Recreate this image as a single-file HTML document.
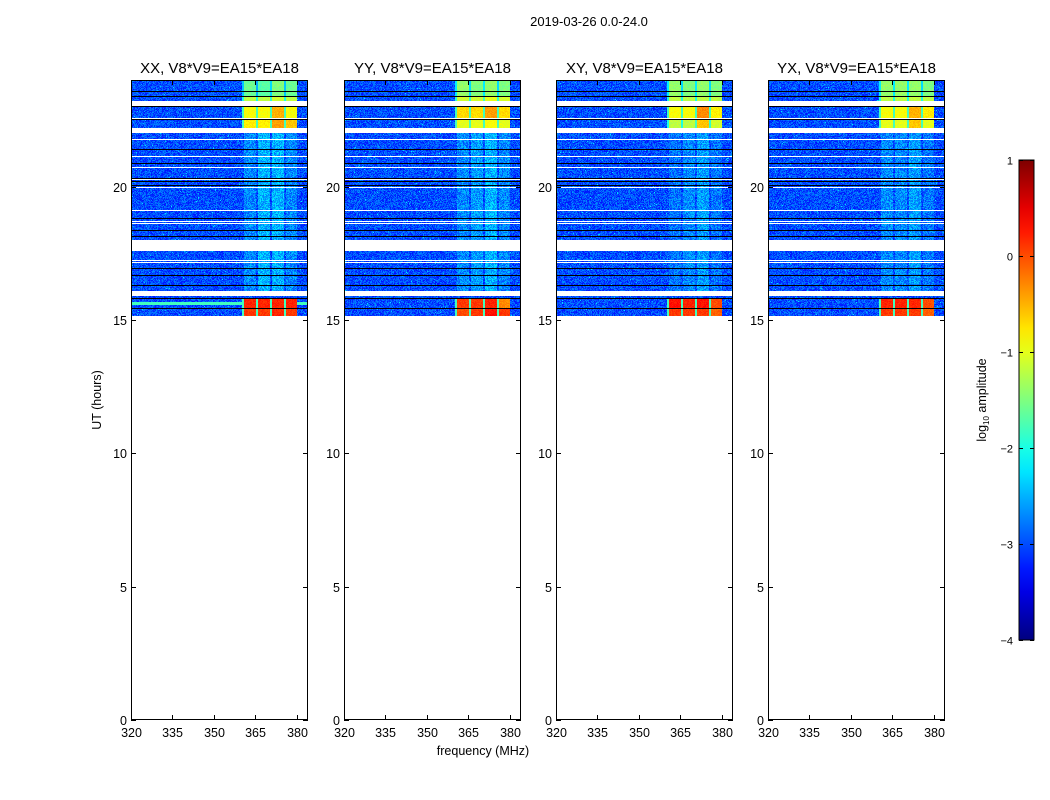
<!DOCTYPE html>
<html><head><meta charset="utf-8">
<style>
body{margin:0;background:#fff;width:1050px;height:800px;overflow:hidden;font-family:"Liberation Sans","DejaVu Sans",sans-serif;}
#root{position:relative;width:1050px;height:800px;}
canvas{position:absolute;image-rendering:pixelated;}
svg{position:absolute;left:0;top:0;}
</style></head>
<body>
<div id="root">
<svg id="svg" width="1050" height="800"></svg>
</div>
<script>
// ---- data ----
const panelTitles = ["XX, V8*V9=EA15*EA18","YY, V8*V9=EA15*EA18","XY, V8*V9=EA15*EA18","YX, V8*V9=EA15*EA18"];
const xTicks = [320,335,350,365,380];
const yTicks = [0,5,10,15,20];
const cbTicks = [1,0,-1,-2,-3,-4];
const dataSegments = [[15.14,15.91],[16.09,17.6],[18.01,22.01],[22.2,23.04],[23.22,24]];
const whiteLines = [22.56,21.79,21.15,20.73,20.29,19.98,19.14,18.72,18.63,17.26,17.18];
const blackLines = [23.58,23.41,23.01,22.54,21.41,20.89,20.33,20.21,20.05,18.83,18.39,18.14,16.95,16.7,16.3,15.83,15.45];
const blockEdges = [360.5,365.4,370.5,375.6,380.2];
const bands = [[23.41,24],[23.22,23.41],[22.58,23.04],[22.2,22.54],[16.09,22.01],[15.45,15.83],[15.14,15.45]];
const baseLevel = -3.0;
const bandValsXX = [[-1.6,-1.7,-1.5,-1.6],[-1.2,-1.2,-1.1,-1.2],[-0.9,-0.9,-0.5,-0.9],[-0.8,-0.8,-0.4,-0.6],[-2.7,-2.5,-2.5,-2.7],[0.2,0.2,0.2,0.2],[0.1,0.1,0.2,0.1]];
const bandValsYY = [[-1.4,-1.5,-1.4,-1.5],[-1.1,-1.1,-1.0,-1.1],[-0.7,-0.7,-0.4,-0.7],[-1.0,-1.0,-0.9,-1.0],[-2.7,-2.6,-2.5,-2.7],[0.1,0.1,0.2,-0.3],[0.0,0.1,0.3,0.1]];
const bandValsXY = [[-1.4,-1.5,-1.4,-1.5],[-1.2,-1.2,-1.2,-1.2],[-0.9,-0.9,-0.3,-0.8],[-1.2,-1.2,-0.6,-1.1],[-2.8,-2.7,-2.6,-2.8],[0.3,0.2,0.3,0.0],[0.1,0.1,0.1,-0.1]];
const bandValsYX = [[-1.4,-1.4,-1.4,-1.5],[-1.2,-1.2,-1.2,-1.2],[-0.9,-0.9,-0.5,-0.8],[-1.0,-1.0,-0.6,-1.0],[-2.7,-2.7,-2.6,-2.8],[0.2,0.2,0.2,0.0],[0.1,0.1,0.1,-0.1]];
const panelVals = [bandValsXX,bandValsYY,bandValsXY,bandValsYX];

// ---- layout ----
const panelX = [131,344,556,768], PW=177, PT=80, PB=720;
const xMin=320,xMax=384,yMin=0,yMax=24;
const NS="http://www.w3.org/2000/svg";
const svg=document.getElementById('svg');
function el(tag,attrs,parent){const e=document.createElementNS(NS,tag);for(const k in attrs)e.setAttribute(k,attrs[k]);(parent||svg).appendChild(e);return e;}
function xs(p,f){return panelX[p]+(f-xMin)/(xMax-xMin)*PW;}
function ys(h){return PB-(h-yMin)/(yMax-yMin)*(PB-PT);}
function jet(v){let t=Math.max(0,Math.min(1,(v+4)/5));
 const r=Math.max(0,Math.min(1,1.5-Math.abs(4*t-3))),g=Math.max(0,Math.min(1,1.5-Math.abs(4*t-2))),b=Math.max(0,Math.min(1,1.5-Math.abs(4*t-1)));
 return [r*255|0,g*255|0,b*255|0];}
function hash(a,b,c){let h=(a*374761393+b*668265263+c*2147483647)|0;h=(h^(h>>>13))*1274126177|0;h=h^(h>>>16);return ((h>>>0)%10000)/10000;}

const root=document.getElementById('root');
panelVals.forEach((vals,p)=>{
  const top=PT, H=Math.ceil(ys(15.1)-PT);
  const cv=document.createElement('canvas');
  
  
  cv.width=PW;cv.height=H;cv.style.left=panelX[p]+'px';cv.style.top=top+'px';
  root.insertBefore(cv,svg);
  const ctx=cv.getContext('2d');const img=ctx.createImageData(PW,H);
  for(let r=0;r<H;r++){
    const h=yMax-(r+0.5)/(PB-PT)*(yMax-yMin);
    const inData=dataSegments.some(s=>h>=s[0]&&h<=s[1]);
    for(let c=0;c<PW;c++){
      const idx=(r*PW+c)*4;
      if(!inData){img.data[idx]=255;img.data[idx+1]=255;img.data[idx+2]=255;img.data[idx+3]=255;continue;}
      const f=xMin+(c+0.5)/PW*(xMax-xMin);
      let v=baseLevel+(hash(c,r,p)-0.5)*0.6;
      if(hash(r,c,p+7)>0.985)v+=0.5;
      if(p===0&&h>15.58&&h<15.66)v=-1.8;
      for(let b=0;b<bands.length;b++){
        if(h>=bands[b][0]&&h<bands[b][1]){
          for(let k=0;k<4;k++){
            if(f>=blockEdges[k]+0.35&&f<blockEdges[k+1]-0.35){v=vals[b][k]+(hash(c,r,p+3)-0.5)*(b===4?0.6:0.2);}
            else if(f>=blockEdges[k]-0.35&&f<blockEdges[k]+0.35&&b!==4){v=Math.min(vals[b][k]-0.8,-1.8);}
          }
        }
      }
      const col=jet(v);img.data[idx]=col[0];img.data[idx+1]=col[1];img.data[idx+2]=col[2];img.data[idx+3]=255;
    }
  }
  ctx.putImageData(img,0,0);
  ctx.fillStyle='#fff';
  whiteLines.forEach(h=>ctx.fillRect(0,Math.round(ys(h)-PT),PW,1));
  ctx.fillStyle='#000';
  blackLines.forEach(h=>ctx.fillRect(0,Math.round(ys(h)-PT),PW,1));
});

// axes
panelX.forEach((x0,p)=>{
  const g=el('g',{});
  
  
  const fr=el('rect',{x:x0+0.5,y:PT+0.5,width:PW-1,height:PB-PT-1,fill:'none',stroke:'#000','stroke-width':1},g);
  
  const t=el('text',{x:x0+PW/2,y:73,'text-anchor':'middle','font-size':15},g);t.textContent=panelTitles[p];
  
  xTicks.forEach(v=>{const x=Math.round(xs(p,v))+0.5;
    el('line',{x1:x,x2:x,y1:PB,y2:PB-5,stroke:'#000'},g);el('line',{x1:x,x2:x,y1:PT,y2:PT+5,stroke:'#000'},g);
    const tl=el('text',{x:x,y:PB+17,'text-anchor':'middle','font-size':12.5},g);tl.textContent=v;
    });
  yTicks.forEach(v=>{const y=Math.round(ys(v))+0.5;
    el('line',{x1:x0,x2:x0+5,y1:y,y2:y,stroke:'#000'},g);el('line',{x1:x0+PW-5,x2:x0+PW,y1:y,y2:y,stroke:'#000'},g);
    const tl=el('text',{x:x0-4,y:y+4.5,'text-anchor':'end','font-size':12.5},g);tl.textContent=v;
    });
});
let tx=el('text',{x:589,y:26,'text-anchor':'middle','font-size':13});tx.textContent='2019-03-26 0.0-24.0';

tx=el('text',{x:483,y:755,'text-anchor':'middle','font-size':12.5});tx.textContent='frequency (MHz)';

tx=el('text',{x:101,y:400,'text-anchor':'middle','font-size':12.5,transform:'rotate(-90 101 400)'});tx.textContent='UT (hours)';


// colorbar
const cbX=1019,cbW=15,cbT=160,cbB=640;
const defs=el('defs',{});const lg=el('linearGradient',{id:'jetg',x1:0,y1:1,x2:0,y2:0},defs);
for(let i=0;i<=20;i++){const c=jet(-4+5*i/20);el('stop',{offset:i/20,'stop-color':`rgb(${c})`},lg);}
const cb=el('rect',{x:cbX,y:cbT,width:cbW,height:cbB-cbT,fill:'url(#jetg)',stroke:'#000'});

cbTicks.forEach(v=>{const y=Math.round(cbB-(v+4)/5*(cbB-cbT))+0.5;
  el('line',{x1:cbX,x2:cbX+4,y1:y,y2:y,stroke:'#000'});el('line',{x1:cbX+cbW-4,x2:cbX+cbW,y1:y,y2:y,stroke:'#000'});
  const tl=el('text',{x:cbX-6,y:y+4,'text-anchor':'end','font-size':11});tl.textContent=v<0?'\u2212'+(-v):v;
  });
tx=el('text',{x:986,y:400,'text-anchor':'middle','font-size':12.5,transform:'rotate(-90 986 400)'});
tx.innerHTML='log<tspan font-size="8" dy="3">10</tspan><tspan dy="-3"> amplitude</tspan>';

</script>
</body></html>
